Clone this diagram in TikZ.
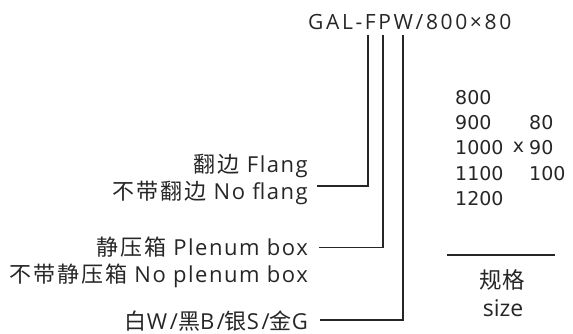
\documentclass[tikz,border=0pt]{standalone}
\usepackage{fontspec}
\setmainfont{Open Sans}
\newfontfamily\cjk{Noto Sans CJK SC}
\newfontfamily\cjksp[LetterSpace=9]{Noto Sans CJK SC}
\newfontfamily\numfont{DejaVu Sans}
\newcommand\cj[1]{{\cjksp\fontsize{22}{22}\selectfont #1}}
\definecolor{ink}{HTML}{262626}
\begin{document}
\begin{tikzpicture}[x=1pt,y=-1pt,
  lab/.style={inner sep=0pt,anchor=base east,text=ink,font=\fontsize{22}{22}\selectfont\addfontfeature{LetterSpace=7}},
  num/.style={inner sep=0pt,anchor=base west,text=ink,font=\numfont\fontsize{19}{19}\selectfont},
  conn/.style={draw=ink,line width=1.3pt}]
\useasboundingbox (0,0) rectangle (573,334);
\node[inner sep=0pt,anchor=base west,text=ink,font=\fontsize{21}{21}\selectfont\addfontfeature{LetterSpace=12.5}] (title) at (308,30) {GAL-FPW/800×80};
\coordinate (t1) at (368,35);
\coordinate (t2) at (383,35);
\coordinate (t3) at (403,35);
\node[lab] (a1) at (308,172) {\cj{翻边} Flang};
\node[lab] (a2) at (308,199) {\cj{不带翻边} No flang};
\node[lab] (b1) at (308,255) {\cj{静压箱} Plenum box};
\node[lab] (b2) at (308,282) {\cj{不带静压箱} No plenum box};
\node[lab,font=\fontsize{22}{22}\selectfont\addfontfeature{LetterSpace=12}] (c1) at (308,329) {\cj{白}W/\cj{黑}B/\cj{银}S/\cj{金}G};
\coordinate (e1) at (317,186);
\coordinate (e2) at (319,247.7);
\coordinate (e3) at (320,320);
\draw[conn] (t1) |- (e1);
\draw[conn] (t2) |- (e2);
\draw[conn] (t3) |- (e3);
\node[num] (n800) at (455,105) {800};
\node[num] (n900) at (455,130) {900};
\node[num] (n1000) at (455,155) {1000};
\node[num] (n1100) at (455,180) {1100};
\node[num] (n1200) at (455,205) {1200};
\node[num] (m80) at (529,130) {80};
\node[num] (m90) at (529,155) {90};
\node[num] (m100) at (529,180) {100};
\node[num,anchor=base] (mx) at (518.5,153) {x};
\coordinate (s1) at (447,255);
\coordinate (s2) at (555,255);
\draw[draw=ink,line width=1.8pt] (s1) -- (s2);
\node[inner sep=0pt,anchor=base,text=ink,font=\cjk\fontsize{22.5}{22.5}\selectfont] (gg) at (502,288) {规格};
\node[inner sep=0pt,anchor=base,text=ink,font=\fontsize{23}{23}\selectfont] (sz) at (503,316) {size};
\end{tikzpicture}
\end{document}
